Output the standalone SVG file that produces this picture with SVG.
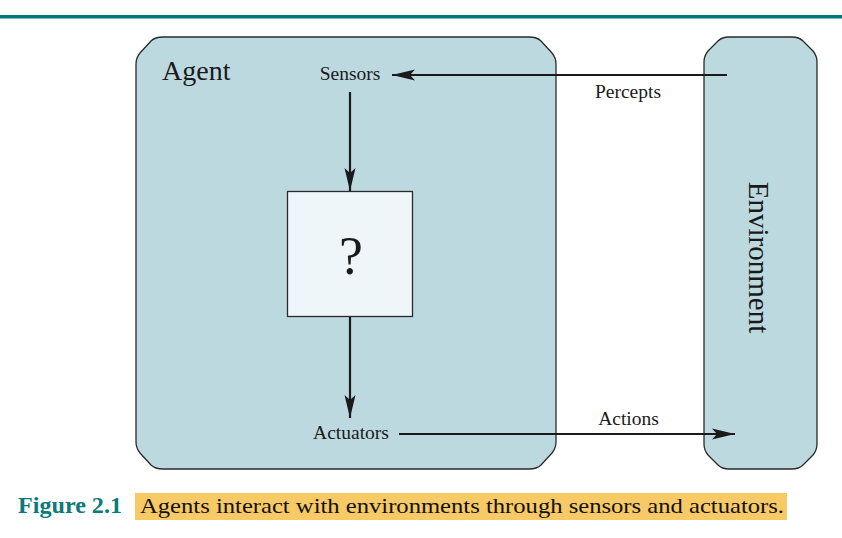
<svg xmlns="http://www.w3.org/2000/svg" width="842" height="538" viewBox="0 0 842 538">
<style>
.box{fill:#bdd9e0;stroke:#2a2a2a;stroke-width:1.3}
.inner{fill:#eef6f9;stroke:#2a2a2a;stroke-width:1.3}
.lbl{font-family:"Liberation Serif","Times New Roman",serif;fill:#1a1a1a}
.conn{stroke:#1a1a1a;stroke-width:2.2;fill:none}
</style>
<defs>
<marker id="ah" markerWidth="24" markerHeight="12" refX="23" refY="6" orient="auto" markerUnits="userSpaceOnUse">
<path d="M0,0.5 L23,6 L0,11.5 L5,6 Z" fill="#1a1a1a"/>
</marker>
</defs>
<rect x="0" y="15" width="842" height="3.5" fill="#00787a"/>
<g id="agent">
<path class="box" d="M136,64 Q136,58 140,53 L151,41 Q155,37 163,37 L529,37 Q537,37 541,41 L552,53 Q556,58 556,64 L556,442 Q556,448 552,453 L541,465 Q537,469 529,469 L163,469 Q155,469 151,465 L140,453 Q136,448 136,442 Z"/>
<text class="lbl" x="162" y="80" font-size="28">Agent</text>
</g>
<g id="environment">
<path class="box" d="M704,62 Q704,56 708,51 L718,41 Q722,37 729,37 L792,37 Q799,37 803,41 L813,51 Q817,56 817,62 L817,444 Q817,450 813,455 L803,465 Q799,469 792,469 L729,469 Q722,469 718,465 L708,455 Q704,450 704,444 Z"/>
<text class="lbl" x="0" y="0" font-size="29" text-anchor="middle" transform="translate(749,257.5) rotate(90)">Environment</text>
</g>
<g id="sensors">
<text class="lbl" x="350" y="80" font-size="19.5" text-anchor="middle">Sensors</text>
</g>
<g id="agent-program">
<rect class="inner" x="287.5" y="191.5" width="125" height="125"/>
<text class="lbl" x="351" y="274" font-size="54" text-anchor="middle">?</text>
</g>
<g id="actuators">
<text class="lbl" x="351" y="439" font-size="19.5" text-anchor="middle">Actuators</text>
</g>
<g id="connectors">
<line class="conn" x1="727" y1="75" x2="392" y2="75" marker-end="url(#ah)"/>
<text class="lbl" x="628" y="98" font-size="19.5" text-anchor="middle">Percepts</text>
<line class="conn" x1="350" y1="92" x2="350" y2="191" marker-end="url(#ah)"/>
<line class="conn" x1="350" y1="317" x2="350" y2="418" marker-end="url(#ah)"/>
<line class="conn" x1="399" y1="434" x2="735" y2="434" marker-end="url(#ah)"/>
<text class="lbl" x="628.5" y="425" font-size="19.5" text-anchor="middle">Actions</text>
</g>
<g id="caption">
<rect x="135" y="493" width="652" height="27" fill="#f8ca66"/>
<text x="18" y="513" font-family="Liberation Serif,'Times New Roman',serif" font-weight="bold" font-size="23" fill="#0c7a7a" textLength="104" lengthAdjust="spacingAndGlyphs">Figure 2.1</text>
<text x="140" y="513" font-family="Liberation Serif,'Times New Roman',serif" font-size="22" fill="#111" textLength="644" lengthAdjust="spacingAndGlyphs">Agents interact with environments through sensors and actuators.</text>
</g>
</svg>
